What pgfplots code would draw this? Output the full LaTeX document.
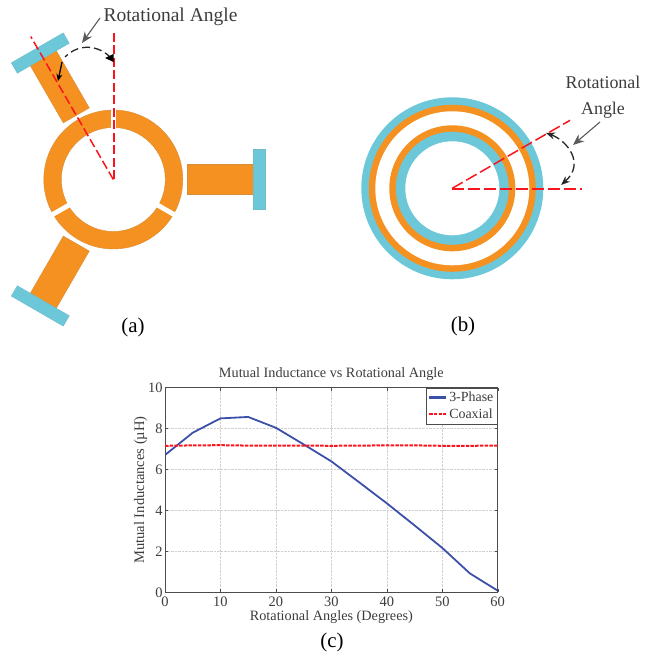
\documentclass[border=0pt]{standalone}
\usepackage{pgfplots}
\pgfplotsset{compat=1.18}
\usepackage{fontspec}
\setmainfont{Liberation Serif}
\usetikzlibrary{arrows.meta}
\definecolor{org}{RGB}{245,145,32}
\definecolor{cy}{RGB}{108,200,216}
\definecolor{txt}{RGB}{60,60,60}
\definecolor{bl}{RGB}{60,80,170}
\definecolor{rd}{RGB}{250,20,30}
\definecolor{gr}{RGB}{90,90,90}
\begin{document}
\begin{tikzpicture}[x=1bp,y=1bp]
\path[use as bounding box] (0,0) rectangle (660,658);
% panel (a)
\begin{scope}[shift={(113.3,478.5)}]
  \fill[org,even odd rule,draw=org!75!gray,line width=0.4bp] (0,0) circle[radius=69.5] (0,0) circle[radius=52];
  \foreach \a in {90,210,330} {\draw[white,line width=4.8bp] (\a:45) -- (\a:75);}
  \foreach \a in {0,120,240} {
    \begin{scope}[rotate=\a]
      \fill[org,draw=org!75!gray,line width=0.4bp] (74,-15) rectangle (140,15);
      \fill[cy,draw=cy!85!gray,line width=0.4bp] (140,-30) rectangle (152,30);
    \end{scope}}
  \draw[rd,line width=2bp,dash pattern=on 9bp off 3.5bp] (0.2,0) -- (0.2,150);
  \draw[rd,line width=1.5bp,dash pattern=on 9bp off 3.5bp] (0,0) -- (120:165);
\end{scope}
\draw[black!85,line width=1.3bp,dash pattern=on 8bp off 4bp] (111,600) .. controls (100,612) and (80,616) .. (65,601);
\draw[-{Stealth[length=7bp,width=6bp]},black,line width=1.3bp] (62,596) -- (58,577);
\fill[black] (113.5,596) -- (105,600) -- (113.5,604) -- cycle;
\draw[-{Stealth[length=11bp,width=9bp]},gr,line width=1.1bp] (100,640) -- (82,615);
\node[txt,font=\fontsize{19.6}{22}\selectfont,anchor=west] at (100,641) {Rotational Angle};
\node[black,font=\fontsize{21}{23}\selectfont] at (133,331) {(a)};
% panel (b)
\begin{scope}[shift={(452.3,469.7)}]
  \fill[cy] (0,0) circle[radius=91];
  \fill[org] (0,0) circle[radius=83.5];
  \fill[white] (0,0) circle[radius=77];
  \fill[org] (0,0) circle[radius=63];
  \fill[cy] (0,0) circle[radius=56.5];
  \fill[white] (0,0) circle[radius=47];
  \draw[rd,line width=2bp,dash pattern=on 12bp off 4bp] (0,-0.3) -- (130,-0.3);
  \draw[rd,line width=1.5bp,dash pattern=on 12bp off 4bp] (0,0) -- (30:136);
\end{scope}
\draw[{Stealth[length=9bp,width=7bp]}-{Stealth[length=9bp,width=7bp]},black!85,line width=1.3bp,dash pattern=on 9bp off 4bp] (546,525) .. controls (566,518) and (586,495) .. (561,473);
\draw[-{Stealth[length=11bp,width=9bp]},gr,line width=1.1bp] (600,536) -- (573,513);
\node[txt,font=\fontsize{18}{20}\selectfont] at (603,576) {Rotational};
\node[txt,font=\fontsize{18}{20}\selectfont] at (603,548) {Angle};
\node[black,font=\fontsize{21}{23}\selectfont] at (463,332) {(b)};
\node[black,font=\fontsize{21}{23}\selectfont] at (332,16) {(c)};
% panel (c)
\begin{axis}[
  at={(165bp,65.7bp)},anchor=south west,
  scale only axis,width=332.7bp,height=204.6bp,
  xmin=0,xmax=60,ymin=0,ymax=10,
  xtick={0,10,...,60},ytick={0,2,...,10},
  grid=major,
  grid style={densely dotted,black!18,line width=0.5bp},
  tick align=inside,major tick length=3bp,
  tick style={black!70,line width=0.4bp},
  axis line style={black!70,line width=0.6bp},
  tick label style={txt,font=\fontsize{14.5}{15}\selectfont},
  /pgf/number format/assume math mode=true,
  xticklabel style={yshift=-1.5bp},
  yticklabel style={xshift=1bp},
  title={Mutual Inductance vs Rotational Angle},
  title style={txt,font=\fontsize{14.3}{16}\selectfont,yshift=-2bp},
  xlabel={Rotational Angles (Degrees)},
  ylabel={Mutual Inductances (µH)},
  xlabel style={txt,font=\fontsize{14.3}{16}\selectfont,yshift=3bp},
  ylabel style={txt,font=\fontsize{14.6}{16}\selectfont,yshift=-6bp},
  legend style={at={(1,1)},anchor=north east,draw=black!70,line width=0.6bp,
    font=\fontsize{14}{15}\selectfont,text=txt,inner sep=2bp,row sep=1.5bp,
    cells={anchor=west}},
  legend cell align=left,
]
\addplot[bl,line width=1.8bp,legend image post style={line width=2.2bp}] coordinates {
(0,6.71)(5,7.8)(10,8.5)(15,8.57)(20,8.04)(25,7.23)(30,6.4)(35,5.38)(40,4.35)(45,3.27)(50,2.17)(55,0.92)(60,0.08)};
\addlegendentry{3-Phase}
\addplot[rd,line width=2bp,dash pattern=on 3.5bp off 1.2bp] coordinates {
(0,7.16)(5,7.18)(10,7.19)(15,7.17)(20,7.17)(25,7.17)(30,7.16)(35,7.17)(40,7.18)(45,7.18)(50,7.16)(55,7.16)(60,7.17)};
\addlegendentry{Coaxial}
\end{axis}
\end{tikzpicture}
\end{document}
